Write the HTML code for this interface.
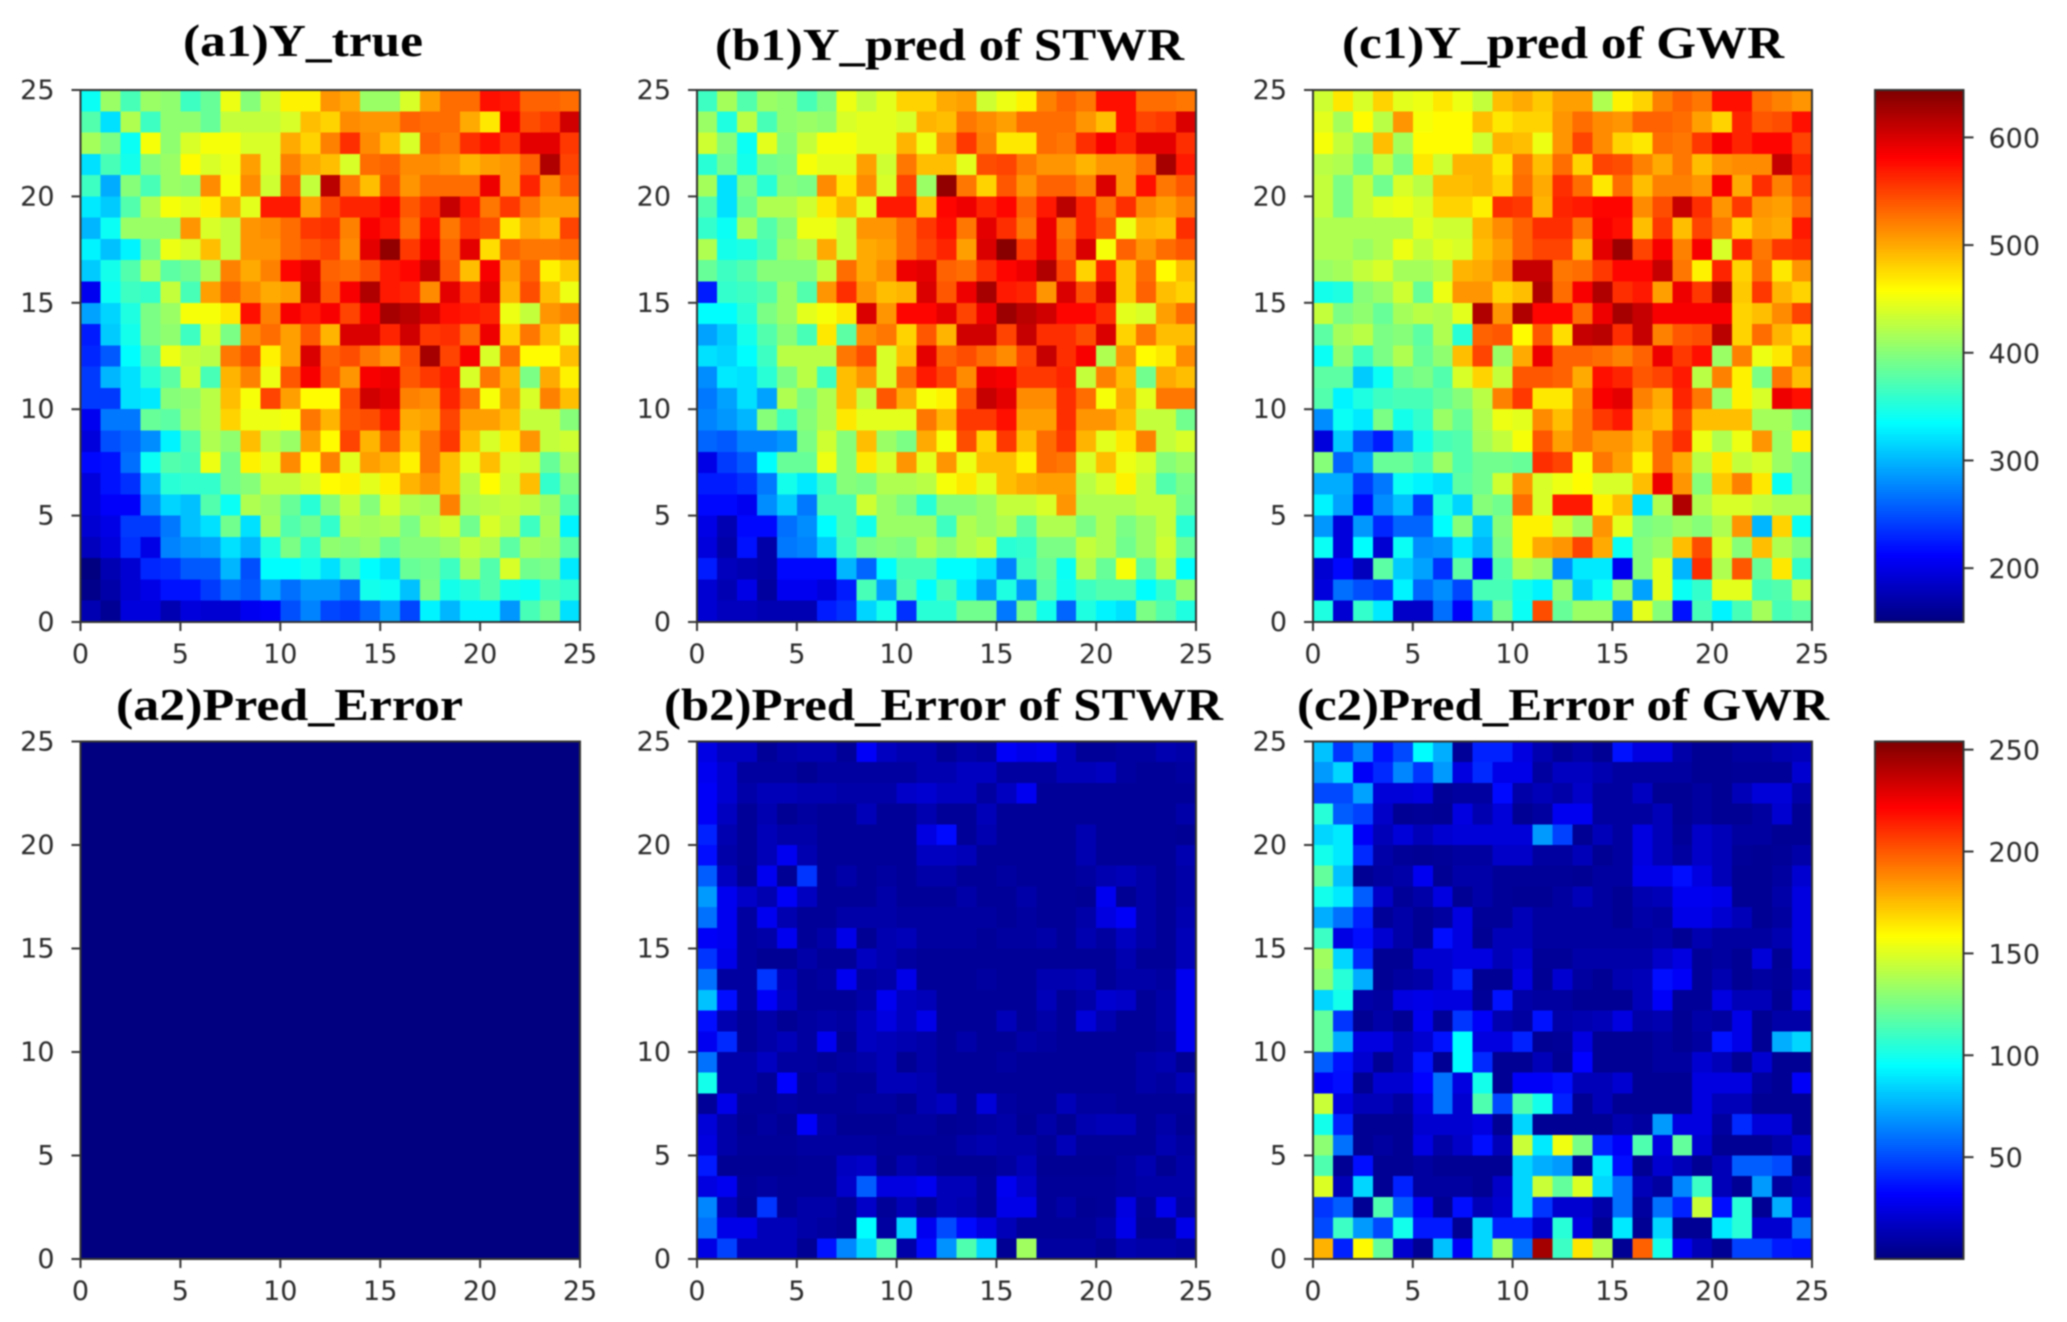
<!DOCTYPE html>
<html lang="en">
<head>
<meta charset="utf-8">
<title>Y_true, predictions and errors of STWR and GWR</title>
<style>
html,body{margin:0;padding:0;background:#fff;width:2067px;height:1322px;overflow:hidden}
svg{display:block;filter:blur(0.9px)}
.tick{font-family:"DejaVu Sans","Liberation Sans",sans-serif;font-size:27px;fill:#2b2b2b}
.title{font-family:"Liberation Serif",serif;font-weight:bold;font-size:46px;fill:#000}
</style>
</head>
<body>
<svg id="figure" xmlns="http://www.w3.org/2000/svg" width="2067" height="1322" viewBox="0 0 2067 1322"></svg>
<script>
// Rows run from the top of the grid (y = 24..25) to the bottom (y = 0..1).
const yTrueValues = [
[340,410,370,410,405,365,385,450,400,435,465,465,510,500,410,410,440,505,530,530,575,570,535,535,530],
[375,320,420,365,405,405,385,430,430,430,440,490,480,515,510,510,535,530,530,500,470,585,545,555,605],
[415,395,340,455,405,440,455,455,440,440,500,480,520,560,515,490,440,535,525,560,575,555,595,595,555],
[320,370,345,400,410,460,440,450,505,440,520,500,490,440,530,535,515,515,510,495,505,510,535,620,550],
[365,295,400,370,410,405,515,455,515,435,540,430,615,525,490,545,510,530,530,530,590,510,565,515,540],
[325,310,375,420,455,445,465,500,445,570,570,505,545,565,565,580,540,560,610,570,525,555,525,505,505],
[300,340,410,410,410,510,440,430,510,515,530,555,560,520,585,570,530,575,525,555,545,470,500,490,550],
[330,305,330,390,450,440,490,430,510,510,530,540,550,515,595,635,555,585,535,595,475,535,525,525,530],
[310,345,375,420,380,390,420,520,500,520,580,595,535,530,545,570,580,610,540,490,585,505,535,465,485],
[205,340,365,360,430,370,505,535,515,500,505,600,540,585,620,570,565,515,595,555,595,495,545,490,450],
[290,315,350,395,410,455,455,470,575,520,585,570,585,550,585,625,615,600,575,570,565,450,430,510,520],
[225,310,345,395,405,365,440,395,515,530,505,540,495,600,600,565,605,555,560,530,590,480,525,490,450],
[230,255,335,375,450,430,425,525,545,465,505,600,535,545,525,510,545,625,550,585,440,530,460,460,490],
[240,300,320,355,380,435,370,495,520,450,540,585,540,510,585,590,540,555,570,440,525,495,395,500,465],
[240,240,320,325,400,405,425,490,455,550,505,460,460,545,605,595,520,515,565,530,455,505,440,520,490],
[205,270,270,385,380,410,425,480,450,450,455,525,495,540,545,570,500,505,550,505,505,490,430,430,400],
[195,250,260,280,330,375,420,405,490,425,410,505,460,550,495,540,490,525,555,490,440,470,510,430,435],
[215,220,265,340,375,370,450,390,465,445,515,460,520,445,505,495,465,525,490,445,490,440,435,385,415],
[195,220,235,300,355,360,360,390,400,430,430,440,460,465,445,465,495,510,490,425,460,435,490,360,395],
[195,210,210,280,315,305,375,340,420,410,385,355,400,430,400,440,420,415,520,420,425,430,425,410,375],
[190,200,240,240,270,305,320,390,320,415,375,390,360,420,415,420,395,425,435,390,440,425,365,415,330],
[180,195,235,200,275,285,290,320,300,350,395,360,405,400,410,385,400,400,410,430,420,380,415,410,380],
[150,175,190,230,235,255,255,300,250,335,335,345,320,365,335,320,385,390,365,415,375,440,390,395,325],
[155,170,190,200,220,220,240,265,255,290,265,285,285,265,345,340,305,395,345,355,375,345,340,370,360],
[175,160,195,195,175,195,190,190,205,210,250,275,245,240,260,290,245,330,300,330,330,285,370,390,320]
];
const stwrPredValues = [
[365,415,375,410,405,370,395,450,430,445,480,480,500,505,435,450,465,520,535,525,575,575,530,530,525],
[410,350,425,370,405,410,405,440,445,445,440,495,490,525,515,505,530,530,530,510,490,575,550,555,600],
[435,400,340,445,400,430,455,455,445,445,495,450,510,555,520,470,470,530,525,560,585,565,595,595,560],
[355,390,345,390,395,455,445,445,505,435,525,490,490,445,545,550,525,510,510,495,510,510,530,625,570],
[415,320,395,355,400,395,515,470,515,440,550,410,635,525,480,540,510,535,535,520,600,510,575,525,540],
[375,320,385,420,420,435,470,495,445,570,570,490,580,590,565,580,535,570,615,565,525,560,515,505,520],
[360,340,415,375,400,450,450,435,510,510,530,555,575,525,595,560,525,590,525,565,540,450,495,490,560],
[420,345,350,370,410,420,500,435,500,505,530,550,565,505,600,640,555,590,535,600,455,535,510,530,540],
[385,365,375,400,400,400,430,530,500,515,590,595,535,530,560,580,590,620,550,480,565,485,530,460,490],
[225,360,365,375,410,375,510,560,510,490,495,600,540,590,625,570,565,510,600,545,600,485,535,490,480],
[335,335,355,395,410,445,455,470,600,510,580,580,595,550,590,630,615,605,580,580,560,445,440,505,530],
[290,310,345,375,400,370,470,380,515,525,480,540,495,605,605,550,610,560,560,545,600,480,525,490,490],
[320,315,335,365,425,425,425,525,545,440,490,595,535,545,530,515,550,610,560,585,420,510,460,470,515],
[280,325,320,355,395,425,365,490,510,440,530,570,550,515,590,585,555,555,565,430,520,490,390,500,490],
[270,290,320,290,420,395,420,490,430,540,500,455,465,540,610,595,515,515,560,530,455,500,445,525,525],
[275,285,300,400,365,400,420,470,445,445,445,525,495,555,555,575,505,505,560,510,510,490,430,430,390],
[260,255,275,275,285,395,435,400,490,410,395,500,455,545,480,555,490,530,555,495,445,470,520,430,440],
[200,240,255,335,385,385,450,400,470,440,510,445,510,450,490,490,465,530,525,440,490,450,440,400,410],
[225,225,235,270,345,325,360,400,395,420,420,425,455,470,445,490,500,505,505,425,440,465,430,375,395],
[215,215,205,280,310,270,370,370,435,410,395,355,400,400,410,430,430,440,510,420,420,420,430,430,390],
[200,175,215,215,265,280,335,370,345,410,410,410,365,420,410,420,380,420,420,395,420,395,410,430,355],
[195,170,220,170,270,275,310,365,395,400,395,420,405,420,430,355,360,395,395,430,420,390,410,435,385],
[225,180,175,170,215,215,215,300,260,335,370,370,335,335,320,275,365,385,340,420,385,455,380,425,335],
[190,175,200,165,205,205,195,225,370,290,375,335,370,325,285,350,285,380,345,365,375,375,335,360,405],
[190,180,180,175,175,175,225,235,315,345,235,355,355,390,390,270,390,345,260,350,330,320,395,375,350]
];
const gwrPredValues = [
[435,470,440,480,445,450,470,450,430,490,500,485,505,505,420,465,480,520,535,525,575,575,530,520,510],
[445,415,460,425,510,455,460,460,490,470,480,480,510,530,515,510,535,535,530,505,480,565,540,545,575],
[455,430,405,490,415,460,460,460,435,495,490,450,510,550,515,480,470,530,525,555,585,565,580,580,550],
[425,420,390,430,395,470,435,495,495,470,525,490,530,480,550,545,520,500,525,490,510,515,515,610,565],
[430,395,430,390,440,425,490,490,495,480,530,500,560,530,470,530,490,520,520,510,585,500,560,520,550],
[430,395,430,445,450,440,480,480,465,560,555,495,565,570,580,580,515,545,610,560,510,555,510,505,530],
[420,420,420,420,420,445,435,435,495,515,535,560,560,525,585,575,490,555,490,550,525,480,505,500,570],
[420,420,410,420,450,430,445,440,490,505,535,550,550,495,595,630,550,585,520,585,440,565,525,555,560],
[410,415,430,440,415,415,425,495,500,515,610,610,525,530,555,580,580,610,525,465,565,480,530,470,510],
[345,350,400,410,435,385,450,510,510,480,490,620,530,585,620,560,570,505,590,555,615,485,555,495,480],
[430,395,405,385,415,425,420,445,620,510,620,580,580,530,590,625,610,585,585,585,585,480,490,515,550],
[380,415,425,395,400,380,420,355,535,540,460,540,475,610,615,560,610,520,540,545,615,480,530,495,475],
[340,405,365,395,420,385,405,490,550,410,500,590,535,535,530,520,535,590,555,575,410,520,450,470,515],
[380,380,310,340,385,395,375,440,480,430,540,540,535,500,575,565,540,550,570,425,520,465,395,525,490],
[375,330,350,365,370,370,385,400,425,520,555,470,470,520,585,595,520,500,565,525,410,465,440,590,575],
[280,340,325,395,345,360,410,385,420,450,445,515,490,525,555,570,500,490,550,490,490,490,415,415,395],
[195,310,250,225,290,345,370,375,415,430,455,540,505,525,510,510,490,530,560,450,420,450,510,410,465],
[400,260,290,385,385,370,410,375,390,390,385,560,550,455,525,505,465,530,500,425,470,430,440,410,395],
[295,295,240,270,340,330,320,380,390,435,510,440,450,460,440,440,490,590,510,400,485,520,470,340,395],
[330,290,215,280,305,240,350,315,400,390,530,440,570,570,465,490,320,420,620,420,440,440,430,420,420],
[285,195,285,230,260,260,335,400,310,400,465,465,435,410,510,445,395,400,410,400,420,510,300,480,340],
[340,195,335,190,340,280,285,325,300,395,465,500,510,550,500,340,400,410,490,545,440,400,490,420,400],
[190,215,180,380,310,290,235,380,215,375,420,410,280,325,325,205,400,445,300,560,420,540,385,470,360],
[195,265,250,240,330,260,280,245,370,370,345,330,405,310,340,410,290,445,340,360,445,445,370,375,430],
[350,190,360,325,185,185,265,210,300,390,340,545,385,410,410,280,445,400,220,370,330,370,415,370,380]
];
const trueErrorValues = [
[0,0,0,0,0,0,0,0,0,0,0,0,0,0,0,0,0,0,0,0,0,0,0,0,0],
[0,0,0,0,0,0,0,0,0,0,0,0,0,0,0,0,0,0,0,0,0,0,0,0,0],
[0,0,0,0,0,0,0,0,0,0,0,0,0,0,0,0,0,0,0,0,0,0,0,0,0],
[0,0,0,0,0,0,0,0,0,0,0,0,0,0,0,0,0,0,0,0,0,0,0,0,0],
[0,0,0,0,0,0,0,0,0,0,0,0,0,0,0,0,0,0,0,0,0,0,0,0,0],
[0,0,0,0,0,0,0,0,0,0,0,0,0,0,0,0,0,0,0,0,0,0,0,0,0],
[0,0,0,0,0,0,0,0,0,0,0,0,0,0,0,0,0,0,0,0,0,0,0,0,0],
[0,0,0,0,0,0,0,0,0,0,0,0,0,0,0,0,0,0,0,0,0,0,0,0,0],
[0,0,0,0,0,0,0,0,0,0,0,0,0,0,0,0,0,0,0,0,0,0,0,0,0],
[0,0,0,0,0,0,0,0,0,0,0,0,0,0,0,0,0,0,0,0,0,0,0,0,0],
[0,0,0,0,0,0,0,0,0,0,0,0,0,0,0,0,0,0,0,0,0,0,0,0,0],
[0,0,0,0,0,0,0,0,0,0,0,0,0,0,0,0,0,0,0,0,0,0,0,0,0],
[0,0,0,0,0,0,0,0,0,0,0,0,0,0,0,0,0,0,0,0,0,0,0,0,0],
[0,0,0,0,0,0,0,0,0,0,0,0,0,0,0,0,0,0,0,0,0,0,0,0,0],
[0,0,0,0,0,0,0,0,0,0,0,0,0,0,0,0,0,0,0,0,0,0,0,0,0],
[0,0,0,0,0,0,0,0,0,0,0,0,0,0,0,0,0,0,0,0,0,0,0,0,0],
[0,0,0,0,0,0,0,0,0,0,0,0,0,0,0,0,0,0,0,0,0,0,0,0,0],
[0,0,0,0,0,0,0,0,0,0,0,0,0,0,0,0,0,0,0,0,0,0,0,0,0],
[0,0,0,0,0,0,0,0,0,0,0,0,0,0,0,0,0,0,0,0,0,0,0,0,0],
[0,0,0,0,0,0,0,0,0,0,0,0,0,0,0,0,0,0,0,0,0,0,0,0,0],
[0,0,0,0,0,0,0,0,0,0,0,0,0,0,0,0,0,0,0,0,0,0,0,0,0],
[0,0,0,0,0,0,0,0,0,0,0,0,0,0,0,0,0,0,0,0,0,0,0,0,0],
[0,0,0,0,0,0,0,0,0,0,0,0,0,0,0,0,0,0,0,0,0,0,0,0,0],
[0,0,0,0,0,0,0,0,0,0,0,0,0,0,0,0,0,0,0,0,0,0,0,0,0],
[0,0,0,0,0,0,0,0,0,0,0,0,0,0,0,0,0,0,0,0,0,0,0,0,0]
];
const stwrErrorValues = [
[25,16,16,6,10,12,12,6,30,16,12,12,6,10,8,30,26,28,14,6,6,8,8,12,10],
[28,20,8,8,8,5,8,8,8,8,8,12,12,16,16,8,8,8,14,14,16,8,6,6,8],
[30,20,10,14,14,12,12,10,10,10,18,20,16,16,8,16,28,6,6,6,6,6,6,6,6],
[30,16,6,12,5,8,6,6,14,6,6,12,6,6,14,6,6,6,6,6,6,6,6,6,10],
[40,12,6,14,10,10,6,6,6,6,6,24,34,6,12,6,6,6,6,12,6,6,6,6,5],
[35,10,6,14,28,12,6,6,6,6,6,16,16,14,6,6,6,6,6,12,6,6,6,6,12],
[55,16,5,28,5,45,6,10,6,8,6,10,10,6,6,8,6,6,6,8,12,14,10,6,10],
[70,28,18,12,30,16,6,6,6,10,6,6,6,10,6,6,10,6,6,5,28,5,10,6,10],
[60,28,8,28,12,6,6,10,10,10,8,8,8,8,8,6,8,6,6,10,24,30,10,6,12],
[30,28,8,10,28,6,10,26,5,12,14,8,8,8,6,8,8,10,6,12,8,16,10,6,14],
[45,26,8,5,5,10,6,6,16,12,8,6,6,6,6,6,6,6,6,6,6,12,6,6,14],
[60,8,8,45,14,6,8,28,8,10,26,6,6,6,8,6,6,12,12,14,6,10,10,8,28],
[80,35,8,30,16,6,6,6,10,28,16,14,6,6,6,6,6,14,6,10,20,18,6,10,28],
[35,12,6,10,5,8,10,8,16,24,16,26,6,6,6,14,6,10,6,22,12,6,6,10,28],
[28,42,6,10,14,8,28,5,16,14,12,10,6,10,6,6,10,8,6,6,6,6,6,8,28],
[60,10,10,16,8,8,6,8,10,14,5,10,6,6,6,8,6,6,6,6,6,6,10,12,5],
[100,10,10,6,32,6,10,6,6,14,14,12,6,6,6,6,6,6,6,6,6,6,10,8,14],
[6,26,6,6,8,6,6,6,8,8,5,12,16,6,22,8,6,6,14,8,8,6,6,6,6],
[22,10,5,8,5,30,10,5,5,5,8,8,5,6,8,10,5,10,5,12,14,14,6,10,5],
[24,10,6,6,6,8,8,8,8,6,6,6,6,10,12,10,10,6,14,6,6,6,6,12,8],
[38,5,5,5,5,6,6,16,18,5,12,8,5,5,5,8,14,5,5,5,5,8,12,5,10],
[24,28,6,8,6,6,6,18,55,24,24,28,14,14,6,28,18,6,6,6,6,8,10,10,10],
[65,14,5,45,6,10,10,6,18,6,14,6,14,12,6,26,26,6,10,5,6,24,6,26,8],
[60,26,26,14,14,10,8,6,95,8,85,28,50,34,24,14,6,6,6,6,10,26,5,5,26],
[25,48,14,14,14,5,36,65,85,115,10,34,68,115,85,5,135,8,8,8,5,12,10,10,8]
];
const gwrErrorValues = [
[80,45,65,36,50,95,75,6,40,40,24,12,6,10,5,36,24,24,10,5,5,8,8,12,14],
[70,85,30,42,65,45,70,24,42,26,26,8,16,16,12,8,8,8,8,5,5,6,6,6,20],
[50,50,72,22,22,24,6,8,8,34,10,14,10,18,8,8,16,5,5,8,5,14,22,22,10],
[105,55,48,18,5,6,5,24,12,22,5,8,28,28,8,8,8,14,5,8,5,5,8,20,5],
[85,90,30,14,22,14,20,22,22,22,22,70,48,5,14,8,24,14,6,18,14,8,8,5,5],
[100,90,42,10,6,5,6,8,8,18,18,8,8,14,5,8,24,14,8,18,14,6,5,6,10],
[120,80,5,8,10,28,5,10,10,6,6,6,6,5,8,8,26,26,35,24,14,5,5,8,20],
[100,90,55,18,6,10,24,5,10,6,5,5,8,14,8,5,12,14,28,28,26,5,5,10,24],
[75,60,40,6,10,5,8,24,6,6,14,8,8,8,8,5,10,8,26,26,20,14,5,8,24],
[110,25,35,20,10,5,35,24,5,14,14,8,8,8,8,8,8,10,5,12,8,8,8,12,24],
[135,85,42,5,5,20,20,24,24,14,20,6,6,10,10,10,10,18,24,6,8,5,22,5,24],
[130,105,75,5,8,10,20,40,5,5,24,5,20,8,5,12,14,35,30,6,12,5,8,6,14],
[85,100,10,8,24,26,24,24,6,36,10,8,8,5,5,5,14,30,6,6,24,14,14,5,24],
[120,45,5,10,5,28,6,45,30,12,8,36,10,12,14,24,10,12,5,10,8,26,5,10,10],
[120,75,24,24,14,20,36,95,24,24,40,5,6,24,5,5,5,8,5,8,36,26,5,75,85],
[55,36,20,5,14,36,5,95,42,5,5,14,5,32,5,5,5,8,8,20,14,5,20,5,5],
[30,35,5,20,20,32,60,24,100,5,30,30,35,14,14,20,5,5,5,24,24,24,8,5,30],
[145,24,14,14,8,24,60,20,115,50,115,100,40,5,14,5,5,5,5,24,14,14,5,5,5],
[100,40,5,5,5,20,20,20,24,5,85,5,5,5,5,12,8,70,24,24,8,42,22,22,5],
[130,60,5,8,5,24,10,18,35,14,145,90,155,125,40,30,115,24,120,20,5,5,5,10,20],
[115,5,35,5,5,8,5,5,5,5,85,75,70,8,90,35,5,20,14,5,14,55,55,50,5],
[150,14,85,5,40,8,8,8,5,18,85,145,120,150,85,60,14,8,65,110,14,5,70,8,14],
[45,55,5,115,55,30,5,35,14,20,85,45,20,20,10,60,8,60,40,145,35,105,5,75,22],
[50,110,70,50,100,38,38,5,85,40,40,20,105,24,5,90,5,85,5,5,90,105,20,20,60],
[178,40,160,120,20,5,80,30,85,135,60,245,110,165,140,5,198,100,28,14,5,48,48,38,36]
];
const axisTicks = [0, 5, 10, 15, 20, 25];
const predictionBarTicks = [200, 300, 400, 500, 600];
const errorBarTicks = [50, 100, 150, 200, 250];
const predictionDomain = [150, 644];
const errorDomain = [0, 254];

const SVG_NS = 'http://www.w3.org/2000/svg';
const figure = document.getElementById('figure');
const columnsX = { a: [80.5, 580], b: [697, 1196], c: [1313, 1812] };
const rowsY = { top: [90, 622], bottom: [741.5, 1259] };
const barX = [1875, 1963.5];

function jet(t) {
  t = Math.max(0, Math.min(1, t));
  const clamp = v => Math.round(255 * Math.max(0, Math.min(1, v)));
  const r = clamp(Math.min(4 * t - 1.5, -4 * t + 4.5));
  const g = clamp(Math.min(4 * t - 0.5, -4 * t + 3.5));
  const b = clamp(Math.min(4 * t + 0.5, -4 * t + 2.5));
  return 'rgb(' + r + ',' + g + ',' + b + ')';
}
function linear(domain, range) {
  return v => range[0] + (v - domain[0]) * (range[1] - range[0]) / (domain[1] - domain[0]);
}
function make(tag, attrs, parent) {
  const el = document.createElementNS(SVG_NS, tag);
  for (const k in attrs) el.setAttribute(k, attrs[k]);
  parent.appendChild(el);
  return el;
}

function drawTitle(text, left, right, baseline, name) {
  const t = make('text', { class: 'title', x: left, y: baseline, textLength: right - left, lengthAdjust: 'spacingAndGlyphs' }, figure);
  
  
  t.textContent = text;
}

function drawHeatmap(name, values, domain, xr, yr) {
  const g = make('g', {}, figure);
  
  
  const xScale = linear([0, 25], xr);
  const yScale = linear([0, 25], [yr[1], yr[0]]);
  const colorScale = linear(domain, [0, 1]);
  const nRows = values.length;
  values.forEach((row, r) => {
    const rowBottom = nRows - 1 - r;
    row.forEach((v, c) => {
      const x0 = xScale(c), x1 = xScale(c + 1);
      const y0 = yScale(rowBottom + 1), y1 = yScale(rowBottom);
      const cell = make('rect', {
        x: x0, y: y0, width: x1 - x0 + 0.4, height: y1 - y0 + 0.4,
        fill: jet(colorScale(v)), 'shape-rendering': 'crispEdges'
      }, g);
      
      
    });
  });
  const frame = make('rect', { x: xr[0], y: yr[0], width: xr[1] - xr[0], height: yr[1] - yr[0], fill: 'none', stroke: '#333', 'stroke-width': 2 }, g);
  
  
  axisTicks.forEach(v => {
    const tx = xScale(v), ty = yScale(v);
    make('line', { x1: tx, x2: tx, y1: yr[1], y2: yr[1] + 9, stroke: '#333', 'stroke-width': 2 }, g);
    make('line', { x1: xr[0], x2: xr[0] - 9, y1: ty, y2: ty, stroke: '#333', 'stroke-width': 2 }, g);
    const xl = make('text', { class: 'tick', x: tx, y: yr[1] + 41, 'text-anchor': 'middle' }, g);
    
    
    xl.textContent = v;
    const yl = make('text', { class: 'tick', x: xr[0] - 26, y: ty + 9, 'text-anchor': 'end' }, g);
    
    
    yl.textContent = v;
  });
}

function drawColorbar(name, domain, ticks, yr) {
  const g = make('g', {}, figure);
  
  
  const yScale = linear(domain, [yr[1], yr[0]]);
  const steps = 256;
  for (let i = 0; i < steps; i++) {
    const v0 = domain[0] + (domain[1] - domain[0]) * i / steps;
    const v1 = domain[0] + (domain[1] - domain[0]) * (i + 1) / steps;
    make('rect', { x: barX[0], y: yScale(v1), width: barX[1] - barX[0], height: yScale(v0) - yScale(v1) + 0.5, fill: jet(i / (steps - 1)), 'shape-rendering': 'crispEdges' }, g);
  }
  make('rect', { x: barX[0], y: yr[0], width: barX[1] - barX[0], height: yr[1] - yr[0], fill: 'none', stroke: '#333', 'stroke-width': 2 }, g);
  ticks.forEach(v => {
    const ty = yScale(v);
    make('line', { x1: barX[1], x2: barX[1] + 10, y1: ty, y2: ty, stroke: '#333', 'stroke-width': 2 }, g);
    const l = make('text', { class: 'tick', x: barX[1] + 25, y: ty + 10 }, g);
    
    
    l.textContent = v;
  });
}

drawTitle('(a1)Y_true', 183, 423, 56, 'title-a1');
drawTitle('(b1)Y_pred of STWR', 715, 1184, 60, 'title-b1');
drawTitle('(c1)Y_pred of GWR', 1342, 1784, 58, 'title-c1');
drawTitle('(a2)Pred_Error', 116, 463, 720, 'title-a2');
drawTitle('(b2)Pred_Error of STWR', 664, 1223, 720, 'title-b2');
drawTitle('(c2)Pred_Error of GWR', 1297, 1829, 720, 'title-c2');

drawHeatmap('heatmap-a1-y-true', yTrueValues, predictionDomain, columnsX.a, rowsY.top);
drawHeatmap('heatmap-b1-y-pred-stwr', stwrPredValues, predictionDomain, columnsX.b, rowsY.top);
drawHeatmap('heatmap-c1-y-pred-gwr', gwrPredValues, predictionDomain, columnsX.c, rowsY.top);
drawHeatmap('heatmap-a2-pred-error', trueErrorValues, errorDomain, columnsX.a, rowsY.bottom);
drawHeatmap('heatmap-b2-pred-error-stwr', stwrErrorValues, errorDomain, columnsX.b, rowsY.bottom);
drawHeatmap('heatmap-c2-pred-error-gwr', gwrErrorValues, errorDomain, columnsX.c, rowsY.bottom);

drawColorbar('colorbar-prediction', predictionDomain, predictionBarTicks, rowsY.top);
drawColorbar('colorbar-error', errorDomain, errorBarTicks, rowsY.bottom);
</script>
</body>
</html>
